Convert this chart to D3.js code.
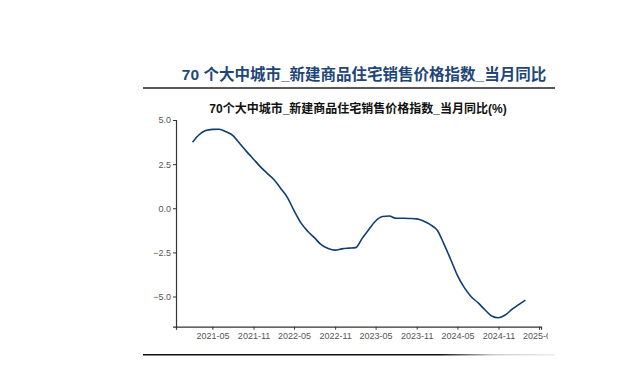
<!DOCTYPE html>
<html><head><meta charset="utf-8">
<script src="https://cdn.jsdelivr.net/npm/d3@7"></script>
<style>
html,body{margin:0;padding:0;background:#fff;}
svg{display:block;}
</style></head>
<body>
<svg id="c" width="640" height="383"></svg>
<script>
const mainTitle = "70 个大中城市_新建商品住宅销售价格指数_当月同比";
const chartTitle = "70个大中城市_新建商品住宅销售价格指数_当月同比(%)";
const startMonth = "2021-02";
const values = [3.74,4.15,4.40,4.47,4.48,4.33,4.12,3.65,3.21,2.78,2.36,1.98,
  1.62,1.15,0.62,-0.13,-0.83,-1.30,-1.68,-2.08,-2.28,-2.37,-2.30,-2.26,
  -2.23,-1.72,-1.20,-0.72,-0.47,-0.44,-0.57,-0.57,-0.58,-0.60,-0.72,-0.93,
  -1.25,-2.00,-2.90,-3.80,-4.50,-5.00,-5.35,-5.75,-6.10,-6.20,-6.05,-5.72,
  -5.45,-5.20];
const yTicks = [5.0,2.5,0.0,-2.5,-5.0];
const xTickLabels = ["2021-05","2021-11","2022-05","2022-11","2023-05","2023-11","2024-05","2024-11","2025-05"];

const parse = d3.timeParse("%Y-%m");
const t0 = parse(startMonth);
const data = values.map((v,i)=>({date:d3.timeMonth.offset(t0,i), value:v}));

const svg = d3.select("#c");
const fontCN = "'Liberation Sans','Noto Sans CJK SC',Arial,sans-serif";

// top title
svg.append("text").attr("x",364).attr("y",80).attr("text-anchor","middle")
  .attr("font-family",fontCN).attr("font-weight","bold").attr("font-size",15.5)
  .attr("fill","#1e4677").text(mainTitle);
svg.append("line").attr("x1",143).attr("x2",555).attr("y1",88).attr("y2",88)
  .attr("stroke","#222").attr("stroke-width",1.5);

// bottom rule with fading end
const defs = svg.append("defs");
const g = defs.append("linearGradient").attr("id","fade").attr("x1","0").attr("x2","1");
g.append("stop").attr("offset","0").attr("stop-color","#111");
g.append("stop").attr("offset","0.72").attr("stop-color","#111");
g.append("stop").attr("offset","0.85").attr("stop-color","#ccc");
g.append("stop").attr("offset","1").attr("stop-color","#eee");
svg.append("rect").attr("x",143).attr("y",354).attr("width",412).attr("height",1.5).attr("fill","url(#fade)");

// chart title
svg.append("text").attr("x",358).attr("y",113).attr("text-anchor","middle")
  .attr("font-family",fontCN).attr("font-weight","bold").attr("font-size",12)
  .attr("fill","#111").text(chartTitle);

const x = d3.scaleTime().domain([new Date(2020,10,19), new Date(2025,4,10)]).range([176,541]);
const y = d3.scaleLinear().domain([-6.71,5.0]).range([326.7,120]);

// clip in the axis group's local coordinates
defs.append("clipPath").attr("id","clipx").append("rect")
  .attr("x",150).attr("y",-10).attr("width",398).attr("height",40);

const xAxis = d3.axisBottom(x)
  .tickValues(xTickLabels.map(parse))
  .tickFormat(d3.timeFormat("%Y-%m")).tickSizeOuter(0).tickSize(3).tickPadding(3);
const gx = svg.append("g").attr("transform","translate(0,326.7)").attr("clip-path","url(#clipx)").call(xAxis);
const yAxis = d3.axisLeft(y).tickValues(yTicks).tickFormat(d3.format(".1f")).tickSizeOuter(0).tickSize(3).tickPadding(2);
const gy = svg.append("g").attr("transform","translate(176,0)").call(yAxis);

[gx,gy].forEach(a=>{
  a.select(".domain").attr("stroke","#333").attr("stroke-width",1.2);
  a.selectAll(".tick line").attr("stroke","#333");
  a.selectAll(".tick text").attr("fill","#555").attr("font-size",9)
    .attr("font-family","'Liberation Sans',Arial,sans-serif");
});

const line = d3.line().x(d=>x(d.date)).y(d=>y(d.value)).curve(d3.curveMonotoneX);
svg.append("path").datum(data).attr("d",line).attr("fill","none")
  .attr("stroke","#0f3d73").attr("stroke-width",1.6).attr("stroke-linejoin","round");
</script>
</body></html>
